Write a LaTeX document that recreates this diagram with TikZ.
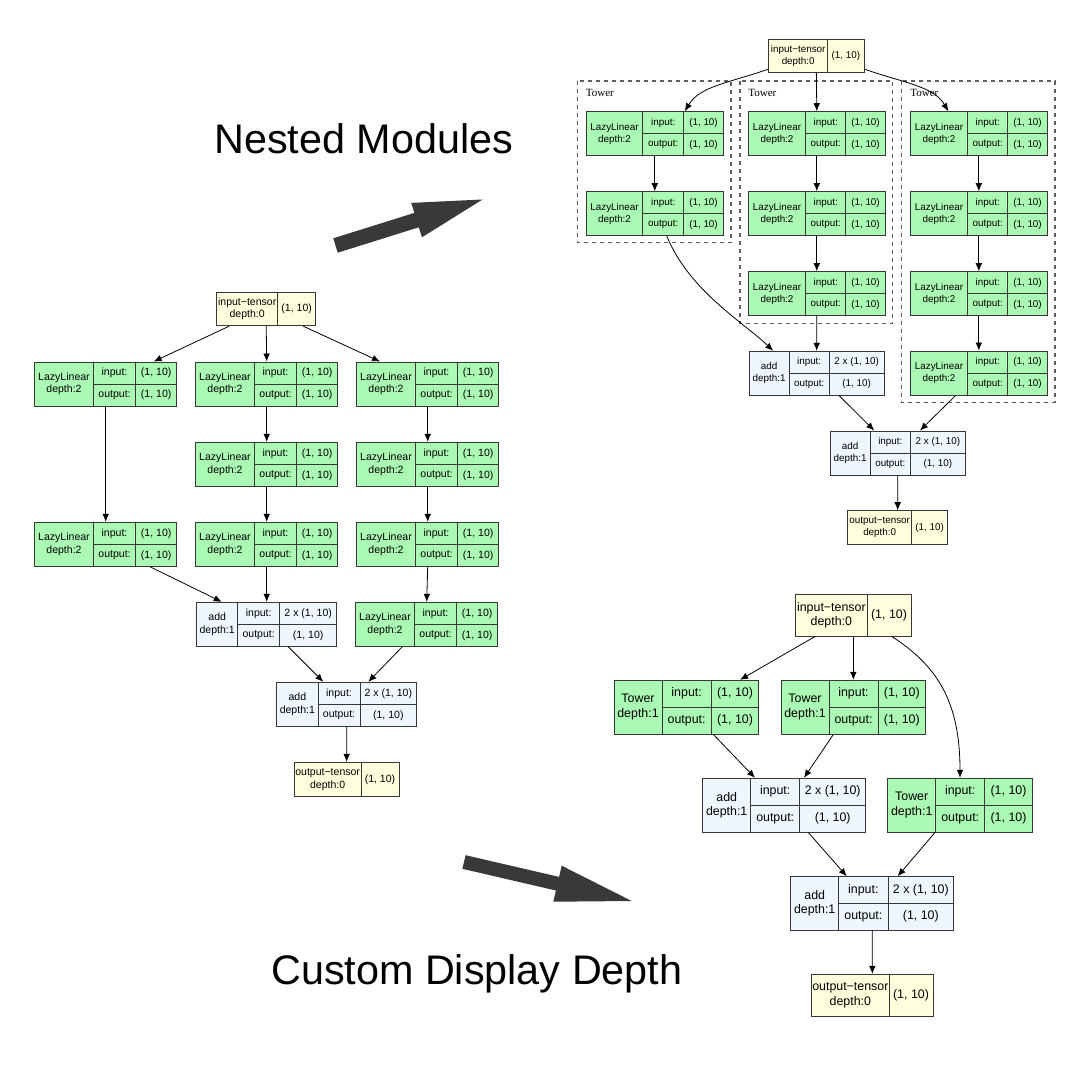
\documentclass[tikz,border=0pt]{standalone}
\usepackage{fontspec}
\setmainfont{Liberation Sans}
\newfontfamily\serifTw{Liberation Serif}
\usetikzlibrary{fit,calc,arrows.meta}
\definecolor{fillg}{RGB}{171,250,180}
\definecolor{filla}{RGB}{238,247,255}
\definecolor{filly}{RGB}{255,255,221}
\definecolor{bordc}{RGB}{55,55,55}
\definecolor{bigarr}{RGB}{58,56,58}
\def\invalg{(1, 10)}
\def\invala{2 x (1, 10)}
\newcommand\modbox[9]{%
 \node[fit={(#2,#6) (#5,#7)},inner sep=0pt,draw=bordc,fill=fill#8,line width=0.7pt] (#1) {};
 \draw[bordc,line width=0.7pt] (#3,#6)--(#3,#7) (#4,#6)--(#4,#7) (#3,{(#6+#7)/2})--(#5,{(#6+#7)/2});
 \node[txt,align=center] (#1n) at ({(#2+#3)/2},{(#6+#7)/2}) {#9};
 \node[txt] (#1i) at ({(#3+#4)/2},{#6+(#7-#6)/4}) {input:};
 \node[txt] (#1o) at ({(#3+#4)/2},{#6+3*(#7-#6)/4}) {output:};
 \node[txt] (#1iv) at ({(#4+#5)/2},{#6+(#7-#6)/4}) {\csname inval#8\endcsname};
 \node[txt] (#1ov) at ({(#4+#5)/2},{#6+3*(#7-#6)/4}) {(1, 10)};
}
\newcommand\tensbox[7]{%
 \node[fit={(#2,#5) (#4,#6)},inner sep=0pt,draw=bordc,fill=filly,line width=0.7pt] (#1) {};
 \draw[bordc,line width=0.7pt] (#3,#5)--(#3,#6);
 \node[txt,align=center] (#1n) at ({(#2+#3)/2},{(#5+#6)/2}) {#7};
 \node[txt] (#1v) at ({(#3+#4)/2},{(#5+#6)/2}) {(1, 10)};
}
\tikzset{edge/.style={-{Latex[length=6pt,width=5pt]},line width=0.6pt,black},
 tower/.style={dashed,draw=bordc!80,line width=0.8pt},
 title/.style={font=\fontsize{31}{33}\selectfont,anchor=base west,inner sep=0pt}}
\begin{document}
\begin{tikzpicture}[x=0.75pt,y=-0.75pt]
\path[use as bounding box,fill=white] (0,0) rectangle (1080,1080);
% titles and big arrows
\node[title] (t1) at (214,153.3) {Nested Modules};
\node[title] (t2) at (271,984) {Custom Display Depth};
\fill[bigarr] (333.3,238.3)--(337.7,252.7)--(418.8,227.3)--(422,237.3)--(482.5,199.5)--(411.2,202.9)--(414.4,212.9)--cycle;
\fill[bigarr] (465.6,855.2)--(462.4,868.8)--(555.9,890.5)--(553.3,901.7)--(631.7,901)--(561.7,865.7)--(559.1,876.9)--cycle;
% ---------------- left diagram
\begin{scope}[txt/.style={font=\fontsize{7.9}{9.4}\selectfont,inner sep=0pt}]
\tensbox{Lin}{216.7}{277.7}{315.7}{292}{325.7}{input−tensor\\depth:0}
\modbox{L11}{34.7}{93.3}{135.7}{176.7}{362}{406}{g}{LazyLinear\\depth:2}
\modbox{L13}{34.7}{93.3}{135.7}{176.7}{522.3}{566.3}{g}{LazyLinear\\depth:2}
\modbox{L21}{195.7}{254.3}{296.7}{337.7}{362}{406}{g}{LazyLinear\\depth:2}
\modbox{L22}{195.7}{254.3}{296.7}{337.7}{442.3}{486.3}{g}{LazyLinear\\depth:2}
\modbox{L23}{195.7}{254.3}{296.7}{337.7}{522.3}{566.3}{g}{LazyLinear\\depth:2}
\modbox{L31}{356.7}{415.3}{457.7}{498.7}{362}{406}{g}{LazyLinear\\depth:2}
\modbox{L32}{356.7}{415.3}{457.7}{498.7}{442.3}{486.3}{g}{LazyLinear\\depth:2}
\modbox{L33}{356.7}{415.3}{457.7}{498.7}{522.3}{566.3}{g}{LazyLinear\\depth:2}
\modbox{L34}{355.7}{414.3}{456.7}{497.7}{602.3}{646.3}{g}{LazyLinear\\depth:2}
\modbox{LA1}{196.7}{237.7}{279.7}{336.7}{602.3}{646.3}{a}{add\\depth:1}
\modbox{LA2}{276.7}{318}{360}{416.7}{682.3}{726.3}{a}{add\\depth:1}
\tensbox{Lout}{294.3}{361}{399}{762.3}{796.7}{output−tensor\\depth:0}
\end{scope}
\draw[edge] ($(Lin.south)+(-37,0)$) -- ($(L11.north)+(48,0)$);
\draw[edge] (Lin.south) -- (L21.north);
\draw[edge] ($(Lin.south)+(37,0)$) -- ($(L31.north)+(-47.7,0)$);
\draw[edge] (L11.south) -- (L13.north);
\draw[edge] (L21.south) -- (L22.north);
\draw[edge] (L22.south) -- (L23.north);
\draw[edge] (L31.south) -- (L32.north);
\draw[edge] (L32.south) -- (L33.north);
\draw[edge] (L33.south) -- (L34.north);
\draw[edge] ($(L13.south)+(44.3,0)$) -- ($(LA1.north)+(-45,0)$);
\draw[edge] (L23.south) -- (LA1.north);
\draw[edge] ($(LA1.south)+(21.6,0)$) -- ($(LA2.north)+(-23.4,0)$);
\draw[edge] ($(L34.south)+(-24.4,0)$) -- ($(LA2.north)+(21.6,0)$);
\draw[edge] (LA2.south) -- (Lout.north);
% ---------------- top right
\draw[tower] (577.3,81) rectangle (731,242.7);
\draw[tower] (740,81) rectangle (892.7,323.3);
\draw[tower] (901.7,81) rectangle (1055,402.3);
\node[anchor=west,inner sep=0pt,font=\serifTw\fontsize{8.3}{10}\selectfont] (tw1) at (585.5,93) {Tower};
\node[anchor=west,inner sep=0pt,font=\serifTw\fontsize{8.3}{10}\selectfont] (tw2) at (748,93) {Tower};
\node[anchor=west,inner sep=0pt,font=\serifTw\fontsize{8.3}{10}\selectfont] (tw3) at (910,93) {Tower};
\begin{scope}[txt/.style={font=\fontsize{7.4}{8.9}\selectfont,inner sep=0pt}]
\tensbox{Tin}{768.7}{827.7}{864}{39.3}{72.7}{input−tensor\\depth:0}
\modbox{R11}{586.3}{642.7}{683.7}{723.3}{111.7}{155.7}{g}{LazyLinear\\depth:2}
\modbox{R12}{586.3}{642.7}{683.7}{723.3}{191.7}{235.7}{g}{LazyLinear\\depth:2}
\modbox{R21}{748.3}{805.7}{845.7}{885.3}{111.7}{155.7}{g}{LazyLinear\\depth:2}
\modbox{R22}{748.3}{805.7}{845.7}{885.3}{191.7}{235.7}{g}{LazyLinear\\depth:2}
\modbox{R23}{748.3}{805.7}{845.7}{885.3}{271.7}{315.7}{g}{LazyLinear\\depth:2}
\modbox{R31}{910.3}{967.7}{1007.7}{1047.3}{111.7}{155.7}{g}{LazyLinear\\depth:2}
\modbox{R32}{910.3}{967.7}{1007.7}{1047.3}{191.7}{235.7}{g}{LazyLinear\\depth:2}
\modbox{R33}{910.3}{967.7}{1007.7}{1047.3}{271.7}{315.7}{g}{LazyLinear\\depth:2}
\modbox{R34}{910.3}{967.7}{1007.7}{1047.3}{351}{395}{g}{LazyLinear\\depth:2}
\modbox{RA1}{749.3}{789}{829.3}{884}{351.3}{395.3}{a}{add\\depth:1}
\modbox{RA2}{830.3}{870}{910.7}{965}{431}{475}{a}{add\\depth:1}
\tensbox{Rout}{847.7}{911.7}{947.7}{510.7}{544.3}{output−tensor\\depth:0}
\end{scope}
\draw[edge] ($(Tin.south west)+(0,-4)$) .. controls ($(Tin.south west)+(-40,10)$) and ($(R11.north)+(45,-25)$) .. ($(R11.north)+(30,0)$);
\draw[edge] (Tin.south) -- (R21.north);
\draw[edge] ($(Tin.south east)+(0,-4)$) .. controls ($(Tin.south east)+(40,10)$) and ($(R31.north)+(-45,-25)$) .. ($(R31.north)+(-30.5,0)$);
\draw[edge] (R11.south) -- (R12.north);
\draw[edge] (R21.south) -- (R22.north);
\draw[edge] (R22.south) -- (R23.north);
\draw[edge] (R31.south) -- (R32.north);
\draw[edge] (R32.south) -- (R33.north);
\draw[edge] (R33.south) -- (R34.north);
\draw[edge] ($(R12.south)+(12,0)$) .. controls ($(R12.south)+(35,55)$) and ($(RA1.north)+(-75,-30)$) .. ($(RA1.north)+(-43.4,0)$);
\draw[edge] (R23.south) -- (RA1.north);
\draw[edge] ($(RA1.south)+(22.6,0)$) -- ($(RA2.north)+(-23.4,0)$);
\draw[edge] ($(R34.south)+(-23.1,0)$) -- ($(RA2.north)+(22.3,0)$);
\draw[edge] (RA2.south) -- (Rout.north);
% ---------------- bottom right
\begin{scope}[txt/.style={font=\fontsize{9.3}{11}\selectfont,inner sep=0pt}]
\tensbox{Bin}{795.7}{867}{911}{594.3}{636}{input−tensor\\depth:0}
\modbox{B1}{614}{662}{711.3}{758.7}{680.3}{734}{g}{Tower\\depth:1}
\modbox{B2}{781}{829}{878}{925.7}{680.3}{734}{g}{Tower\\depth:1}
\modbox{B3}{887.7}{935.7}{984.7}{1032.3}{778.3}{832}{g}{Tower\\depth:1}
\modbox{BA1}{702.7}{750.7}{799.7}{865.7}{778.3}{832}{a}{add\\depth:1}
\modbox{BA2}{790.7}{838.7}{888}{953.7}{876.7}{930}{a}{add\\depth:1}
\tensbox{Bout}{811.7}{889}{933}{974.3}{1016}{output−tensor\\depth:0}
\end{scope}
\draw[edge] ($(Bin.south)+(-38.3,0)$) -- ($(B1.north)+(53.7,0)$);
\draw[edge] (Bin.south) -- (B2.north);
\draw[edge] ($(Bin.south)+(38.4,0)$) .. controls ($(Bin.south)+(85,30)$) and ($(B3.north)+(0,-75)$) .. (B3.north);
\draw[edge] ($(B1.south)+(27,0)$) -- ($(BA1.north)+(-29.2,0)$);
\draw[edge] ($(B2.south)+(-20,0)$) -- ($(BA1.north)+(19.8,0)$);
\draw[edge] ($(BA1.south)+(24.1,0)$) -- ($(BA2.north)+(-25.5,0)$);
\draw[edge] ($(B3.south)+(-25,0)$) -- ($(BA2.north)+(25.5,0)$);
\draw[edge] (BA2.south) -- (Bout.north);
\end{tikzpicture}
\end{document}
